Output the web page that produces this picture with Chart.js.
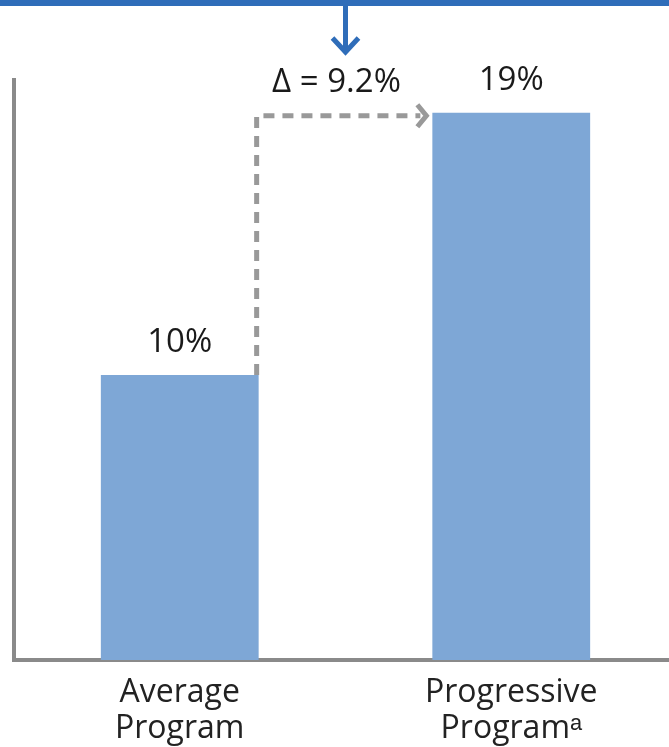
<!DOCTYPE html>
<html>
<head>
<meta charset="utf-8">
<script src="https://cdn.jsdelivr.net/npm/chart.js@4/dist/chart.umd.min.js"></script>
<style>
  html, body { margin: 0; padding: 0; background: #fff; overflow: hidden; }
  #wrap { width: 677px; height: 747px; }
</style>
</head>
<body>
<div id="wrap"><canvas id="chart"></canvas></div>
<script>
const categories = [["Average", "Program"], ["Progressive", "Program\u1d43"]];
const values = [10, 19.2];
const valueLabels = ["10%", "19%"];
const deltaLabel = "\u0394 = 9.2%";

const FONT = "'Open Sans', sans-serif";

// decorations: top rule + arrow, value labels, dashed delta connector
const annotate = {
  id: "annotate",
  afterDatasetsDraw(chart) {
    const ctx = chart.ctx;
    const bars = chart.getDatasetMeta(0).data;
    const b1 = bars[0], b2 = bars[1];
    const r1 = b1.x + b1.width / 2;
    const l2 = b2.x - b2.width / 2;
    const midX = (r1 + l2) / 2;

    ctx.save();
    // top blue rule
    ctx.fillStyle = "#2f6db9";
    ctx.fillRect(0, 0, chart.width, 6);
    // arrow down
    ctx.strokeStyle = "#2f6db9";
    ctx.lineWidth = 5;
    ctx.beginPath();
    ctx.moveTo(midX, 6);
    ctx.lineTo(midX, 50);
    ctx.stroke();
    ctx.beginPath();
    ctx.moveTo(midX - 13, 38);
    ctx.lineTo(midX, 52);
    ctx.lineTo(midX + 13, 38);
    ctx.stroke();

    // value labels
    ctx.fillStyle = "#1a1a1a";
    ctx.font = "500 33px " + FONT;
    ctx.textAlign = "center";
    ctx.textBaseline = "alphabetic";
    bars.forEach((b, i) => ctx.fillText(valueLabels[i], b.x, b.y - 23));

    // delta text
    ctx.fillText(deltaLabel, midX - 9, 92);

    // dashed connector
    ctx.strokeStyle = "#999999";
    ctx.lineWidth = 5;
    ctx.setLineDash([11, 8]);
    ctx.beginPath();
    ctx.moveTo(r1 - 2, b1.y);
    ctx.lineTo(r1 - 2, b2.y + 3);
    ctx.lineTo(l2 - 12, b2.y + 3);
    ctx.stroke();
    ctx.setLineDash([]);
    ctx.beginPath();
    ctx.moveTo(l2 - 15, b2.y - 8);
    ctx.lineTo(l2 - 6, b2.y + 3);
    ctx.lineTo(l2 - 15, b2.y + 14);
    ctx.stroke();
    ctx.restore();
  }
};

new Chart(document.getElementById("chart"), {
  type: "bar",
  data: {
    labels: categories,
    datasets: [{
      data: values,
      backgroundColor: "#7ea7d6",
      barPercentage: 0.476,
      categoryPercentage: 1
    }]
  },
  options: {
    responsive: true,
    maintainAspectRatio: false,
    animation: false,
    layout: { padding: { top: 80, left: 0, right: 0, bottom: 0 } },
    plugins: { legend: { display: false }, tooltip: { enabled: false } },
    scales: {
      x: {
        grid: { display: false },
        border: { color: "#8a8a8a", width: 4 },
        ticks: {
          color: "#222",
          font: { family: FONT, size: 32, lineHeight: 1.13 },
          padding: 7,
          maxRotation: 0
        },
        afterFit(scale) { scale.height = 87; }
      },
      y: {
        min: 0,
        max: 20.35,
        grid: { display: false },
        border: { color: "#8a8a8a", width: 4 },
        ticks: { display: false },
        afterFit(scale) { scale.width = 14; }
      }
    }
  },
  plugins: [annotate]
});
</script>
</body>
</html>
